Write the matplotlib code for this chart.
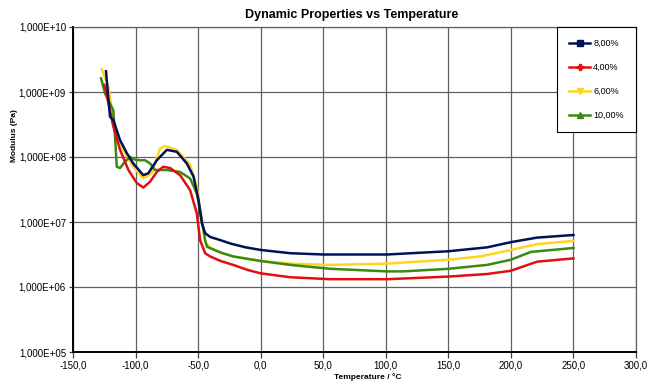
import matplotlib
matplotlib.use("Agg")
import matplotlib.pyplot as plt
from matplotlib.lines import Line2D
from matplotlib.ticker import FuncFormatter, FixedLocator, NullLocator
import math

plt.rcParams['font.family'] = ['Liberation Sans', 'DejaVu Sans']

# Temperature (°C) and log10(modulus in Pa)
t_8 = [-123.6, -122.0, -120.4, -117.8, -112.4, -107.0, -101.8, -93.8, -89.8, -83.0, -75.0, -67.0,
       -59.0, -53.7, -49.7, -47.0, -44.4, -40.4, -32.0, -24.4, -12.0, 0.0, 23.6, 50.0, 101.0,
       150.0, 181.0, 200.0, 221.0, 250.0]
e_8 = [9.32, 8.95, 8.62, 8.57, 8.26, 8.06, 7.90, 7.72, 7.75, 7.95, 8.11, 8.08,
       7.90, 7.70, 7.34, 6.98, 6.83, 6.77, 6.72, 6.67, 6.61, 6.57, 6.52, 6.50, 6.50,
       6.55, 6.61, 6.69, 6.76, 6.80]

t_4 = [-125.0, -121.7, -117.8, -112.4, -105.7, -99.0, -93.8, -88.4, -83.0, -77.8, -72.4, -64.4,
       -56.4, -51.0, -48.4, -44.4, -40.4, -32.0, -22.0, -10.0, 0.0, 23.6, 55.6, 101.0, 150.0,
       181.0, 200.0, 221.0, 250.0]
e_4 = [9.11, 8.83, 8.47, 8.11, 7.80, 7.60, 7.53, 7.62, 7.77, 7.85, 7.83, 7.72,
       7.49, 7.13, 6.72, 6.52, 6.47, 6.40, 6.34, 6.26, 6.21, 6.15, 6.12, 6.12, 6.16,
       6.20, 6.25, 6.39, 6.44]

t_6 = [-127.0, -121.7, -119.0, -115.0, -109.8, -101.8, -93.8, -87.0, -80.4, -76.4, -67.0, -56.4,
       -51.0, -47.0, -44.4, -40.4, -32.0, -22.0, -10.0, 0.0, 23.6, 55.6, 101.0, 150.0, 175.6,
       200.0, 221.0, 250.0]
e_6 = [9.35, 9.08, 8.72, 8.36, 8.11, 7.85, 7.67, 7.75, 8.13, 8.17, 8.11, 7.88,
       7.54, 7.03, 6.70, 6.60, 6.53, 6.47, 6.43, 6.40, 6.36, 6.34, 6.36, 6.42, 6.47,
       6.57, 6.66, 6.71]

t_10 = [-127.6, -124.4, -117.8, -116.4, -115.0, -112.4, -108.4, -104.4, -100.4, -96.4, -92.4,
        -88.4, -84.4, -75.0, -64.4, -56.4, -51.0, -47.0, -44.4, -43.0, -32.0, -22.0, 0.0, 23.6,
        55.6, 101.0, 114.0, 150.0, 181.0, 200.0, 216.0, 250.0]
e_10 = [9.21, 8.98, 8.72, 8.31, 7.85, 7.83, 7.93, 8.00, 7.96, 7.95, 7.95,
        7.90, 7.80, 7.80, 7.77, 7.67, 7.44, 7.03, 6.72, 6.62, 6.53, 6.47, 6.40, 6.34,
        6.28, 6.24, 6.24, 6.28, 6.34, 6.42, 6.54, 6.60]

series_labels = ['8,00%', '4,00%', '6,00%', '10,00%']
colors = ['#00125a', '#e01010', '#ffd320', '#3a8a10']
markers = ['s', 'P', 'v', '^']

x_ticks = [-150, -100, -50, 0, 50, 100, 150, 200, 250, 300]
y_ticks = [1e5, 1e6, 1e7, 1e8, 1e9, 1e10]

fig = plt.figure(figsize=(6.5, 3.81), dpi=100)
ax = fig.add_axes([73/650, 1-352/381, 563/650, 325/381])

data = [(t_8, e_8), (t_4, e_4), (t_6, e_6), (t_10, e_10)]
order = [2, 3, 1, 0]  # draw so navy is on top
for i in order:
    t, e = data[i]
    ax.plot(t, [10**v for v in e], color=colors[i], lw=1.8, solid_joinstyle='round',
            zorder=3 + (i == 0))

ax.set_yscale('log')
ax.set_xlim(-150, 300)
ax.set_ylim(1e5, 1e10)
ax.xaxis.set_major_locator(FixedLocator(x_ticks))
ax.yaxis.set_major_locator(FixedLocator(y_ticks))
ax.yaxis.set_minor_locator(NullLocator())
ax.xaxis.set_major_formatter(FuncFormatter(lambda v, p: f"{v:.1f}".replace('.', ',')))


def yfmt(v, p):
    ex = int(round(math.log10(v)))
    return f"1,000E+{ex:02d}"


ax.yaxis.set_major_formatter(FuncFormatter(yfmt))

ax.grid(True, which='major', color='#606060', lw=0.9)
ax.set_axisbelow(True)
for s in ['top', 'right']:
    ax.spines[s].set_color('#606060')
    ax.spines[s].set_linewidth(0.9)
for s in ['left', 'bottom']:
    ax.spines[s].set_color('black')
    ax.spines[s].set_linewidth(1.4)
ax.tick_params(axis='both', labelsize=7, length=4, width=0.9, color='#404040', pad=2)
ax.tick_params(axis='y', length=3)

fig.text(352/650, 1-15/381, 'Dynamic Properties vs Temperature', ha='center', va='center',
         fontsize=9, fontweight='bold')
fig.text(14/650, 1-136/381, 'Modulus (Pa)', ha='center', va='center', rotation=90,
         fontsize=6, fontweight='bold')
fig.text(368/650, 1-377/381, 'Temperature / °C', ha='center', va='center',
         fontsize=6, fontweight='bold')

handles = [Line2D([0], [0], color=colors[i], lw=1.8, marker=markers[i], markersize=4)
           for i in range(4)]
leg = ax.legend(handles, series_labels, loc='upper right', bbox_to_anchor=(1.0, 1.0),
                borderaxespad=0, fancybox=False, edgecolor='black', framealpha=1,
                fontsize=6.5, handlelength=2.4, labelspacing=1.65, borderpad=1.35,
                handletextpad=0.3)
leg.get_frame().set_linewidth(0.8)

fig.savefig('out.png', dpi=100)
